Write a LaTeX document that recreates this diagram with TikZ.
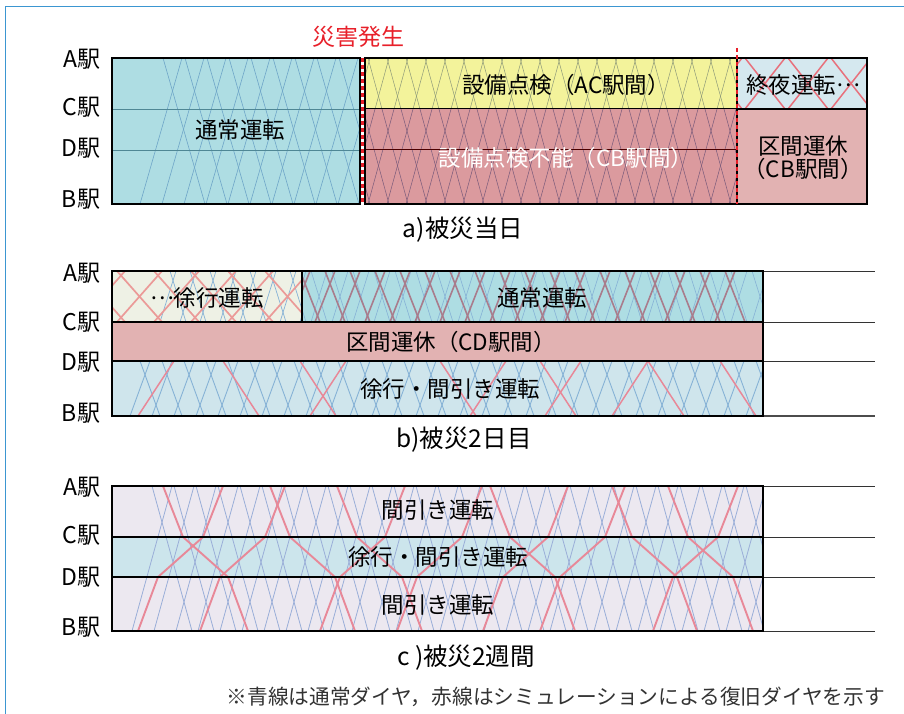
\documentclass[tikz,border=0pt]{standalone}
\usepackage{fontspec}
\setmainfont{Noto Sans CJK JP}
\definecolor{framec}{HTML}{3B96D1}
\definecolor{cyanA}{HTML}{AEDDE3}
\definecolor{yelA}{HTML}{F3F39B}
\definecolor{pinkA}{HTML}{DB9A9E}
\definecolor{ltblue}{HTML}{D5E8EF}
\definecolor{ltpink}{HTML}{E2B2B2}
\definecolor{paleB}{HTML}{EEF1E5}
\definecolor{blueB}{HTML}{CFE5EC}
\definecolor{lavC}{HTML}{ECE8F0}
\definecolor{midC}{HTML}{CCE5EC}
\definecolor{trBlue}{HTML}{6EA5C8}
\definecolor{trGray}{HTML}{8C9878}
\definecolor{trPurp}{HTML}{7A5A7A}
\definecolor{trRed}{HTML}{E8707C}
\definecolor{trRedB}{HTML}{EB9A98}
\definecolor{trMauve}{HTML}{A97C8C}
\definecolor{trBlueB}{HTML}{86B2D6}
\definecolor{trRedC}{HTML}{E88898}
\definecolor{trBlueC}{HTML}{9AAED8}
\definecolor{dlineA}{HTML}{4F8795}
\definecolor{notec}{HTML}{333333}
\definecolor{redtxt}{HTML}{E8202A}
\newcommand{\midells}{\raisebox{0.3em}{…}}
\begin{document}
\begin{tikzpicture}[x=1pt,y=-1pt,
  every node/.style={inner sep=0pt, outer sep=0pt},
  jp/.style={font=\fontsize{22.5}{26}\selectfont},
  stn/.style={font=\fontsize{23}{26}\selectfont, anchor=east},
  captxt/.style={font=\fontsize{24.5}{28}\selectfont},
  boxline/.style={draw=black, line width=1.1pt},
  thickbox/.style={draw=black, line width=1.8pt},
  extline/.style={draw=black!80, line width=0.8pt},
  thinblue/.style={trBlue, line width=0.6pt},
  quake/.style={draw=redtxt, line width=2.8pt, dash pattern=on 4pt off 3pt}
]
\useasboundingbox (0,0) rectangle (904,714);
\fill[white] (0,0) rectangle (904,714);
\draw[framec, line width=1pt] (5,714) -- (5,7) -- (904,7);

% ================= Panel a =================
\fill[cyanA] (112,58) rectangle (360,204);
\fill[yelA] (365,58) rectangle (737,109);
\fill[pinkA] (365,109) rectangle (737,204);
\fill[ltblue] (737,58) rectangle (867,109);
\fill[ltpink] (737,109) rectangle (867,204);

\begin{scope}
  \clip (112,58) rectangle (360,204);
  \foreach \x in {163,185,...,360} \draw[thinblue] (\x,58) -- ++(42,146);
  \foreach \x in {140,162,...,360} \draw[thinblue] (\x,204) -- ++(42,-146);
\end{scope}
\begin{scope}
  \clip (365,58) rectangle (737,109);
  \foreach \x in {330,349,...,740} \draw[trGray, line width=0.5pt] (\x,58) -- ++(40,146);
  \foreach \x in {330,349,...,740} \draw[trGray, line width=0.5pt] (\x,204) -- ++(40,-146);
\end{scope}
\begin{scope}
  \clip (365,109) rectangle (737,204);
  \foreach \x in {330,349,...,740} \draw[trPurp, line width=0.5pt] (\x,58) -- ++(40,146);
  \foreach \x in {330,349,...,740} \draw[trPurp, line width=0.5pt] (\x,204) -- ++(40,-146);
\end{scope}
\begin{scope}
  \clip (737,58) rectangle (867,109);
  \foreach \x in {702,745,...,870} \draw[trRed, line width=1.5pt] (\x,58) -- ++(40,51);
  \foreach \x in {702,745,...,870} \draw[trRed, line width=1.5pt] (\x,109) -- ++(40,-51);
\end{scope}

\draw[dlineA, line width=0.8pt] (112,109) -- (360,109);
\draw[dlineA, line width=0.8pt] (112,150) -- (360,150);
\draw[black, line width=1pt] (365,109) -- (737,109);
\draw[black!50!red!60!black, line width=1pt] (365,150) -- (737,150);
\draw[boxline] (112,58) rectangle (360,204);
\draw[boxline] (365,58) rectangle (737,204);
\draw[boxline] (737,58) rectangle (867,204);
\draw[boxline] (737,109) -- (867,109);
\draw[quake] (362.5,58) -- (362.5,204);
\draw[quake] (737,48) -- (737,204);

\node[jp, text=redtxt, font=\fontsize{23}{26}\selectfont] (quakeLbl) at (358,37) {災害発生};
\node[stn] (aA) at (100,59) {A駅};
\node[stn] (aC) at (100,107) {C駅};
\node[stn] (aD) at (100,148) {D駅};
\node[stn] (aB) at (100,199) {B駅};
\node[jp] (aNormal) at (240,130) {通常運転};
\node[jp] (aCheck) at (566,85) {設備点検（AC駅間）};
\node[jp, text=white] (aNoCheck) at (566,158) {設備点検不能（CB駅間）};
\node[jp] (aNight) at (803,85) {終夜運転\midells};
\node[jp, align=center, font=\fontsize{22.5}{23}\selectfont] (aSusp) at (803,158) {区間運休\\（CB駅間）};
\node[captxt] (capA) at (463,230) {a)被災当日};

% ================= Panel b =================
\fill[paleB] (112,271) rectangle (302,322);
\fill[cyanA] (302,271) rectangle (763,322);
\fill[ltpink] (112,322) rectangle (763,361);
\fill[blueB] (112,361) rectangle (763,416);

\begin{scope}
  \clip (112,271) rectangle (302,322);
  \foreach \x in {170,190,...,300} \draw[trBlueB, line width=0.7pt] (\x,271) -- ++(16,51);
  \foreach \x in {160,180,...,300} \draw[trBlueB, line width=0.7pt] (\x,322) -- ++(16,-51);
  \foreach \x in {80,117,...,310} \draw[trRedB, line width=1.7pt] (\x,271) -- ++(45,51);
  \foreach \x in {80,117,...,310} \draw[trRedB, line width=1.7pt] (\x,322) -- ++(45,-51);
\end{scope}
\begin{scope}
  \clip (302,271) rectangle (763,322);
  \foreach \x in {290,311,...,760} \draw[trBlueB, line width=0.6pt] (\x,271) -- ++(16,51);
  \foreach \x in {290,311,...,760} \draw[trBlueB, line width=0.6pt] (\x,322) -- ++(16,-51);
  \foreach \x in {300,325,...,740} \draw[trMauve, line width=1.6pt] (\x,271) -- ++(20,51);
  \foreach \x in {290,315,...,730} \draw[trMauve, line width=1.6pt] (\x,322) -- ++(20,-51);
\end{scope}
\begin{scope}
  \clip (112,361) rectangle (763,416);
  \foreach \x in {140,162,...,760} \draw[trBlueB, line width=0.9pt] (\x,361) -- ++(20,55);
  \foreach \x in {130,152,...,760} \draw[trBlueB, line width=0.9pt] (\x,416) -- ++(20,-55);
  \foreach \x in {223,300,440,540,648,720} \draw[trRedC, line width=1.5pt] (\x,361) -- ++(36,55);
  \foreach \x in {138,310,470,545,612} \draw[trRedC, line width=1.5pt] (\x,416) -- ++(36,-55);
\end{scope}

\draw[extline] (763,271) -- (875,271);
\draw[extline] (763,322) -- (875,322);
\draw[extline] (763,361) -- (875,361);
\draw[extline, line width=1.2pt, draw=black!70] (763,416) -- (875,416);
\draw[boxline] (112,271) rectangle (763,416);
\draw[boxline] (302,271) -- (302,322);
\draw[boxline] (112,322) -- (763,322);
\draw[boxline] (112,361) -- (763,361);

\node[stn] (bA) at (100,273) {A駅};
\node[stn] (bC) at (100,322) {C駅};
\node[stn] (bD) at (100,362) {D駅};
\node[stn] (bB) at (100,413) {B駅};
\node[jp] (bSlow) at (207,298) {\midells 徐行運転};
\node[jp] (bNormal) at (542,298) {通常運転};
\node[jp] (bSusp) at (451,342) {区間運休（CD駅間）};
\node[jp] (bThin) at (450,389) {徐行・間引き運転};
\node[captxt] (capB) at (464,440) {b)被災2日目};

% ================= Panel c =================
\fill[lavC] (112,486) rectangle (763,537);
\fill[midC] (112,537) rectangle (763,577);
\fill[lavC] (112,577) rectangle (763,631);

\begin{scope}
  \clip (112,486) rectangle (763,631);
  \foreach \x in {152,174,...,760} \draw[trBlueC, line width=0.8pt] (\x,486) -- ++(40,145);
  \foreach \x in {132,154,...,760} \draw[trBlueC, line width=0.8pt] (\x,631) -- ++(40,-145);
  \foreach \x in {163,270,337,490,612,668} \draw[trRedC, line width=1.9pt]
     (\x,486) -- ++(20,51) -- ++(45,40) -- ++(20,54);
  \foreach \x in {138,200,320,397,483,540,653} \draw[trRedC, line width=1.9pt]
     (\x,631) -- ++(20,-54) -- ++(45,-40) -- ++(20,-51);
\end{scope}

\draw[extline] (763,486) -- (875,486);
\draw[extline] (763,537) -- (875,537);
\draw[extline] (763,577) -- (875,577);
\draw[extline] (763,631) -- (875,631);
\draw[thickbox] (112,486) rectangle (763,631);
\draw[thickbox] (112,537) -- (763,537);
\draw[thickbox] (112,577) -- (763,577);

\node[stn] (cA) at (100,487) {A駅};
\node[stn] (cC) at (100,535) {C駅};
\node[stn] (cD) at (100,577) {D駅};
\node[stn] (cB) at (100,627) {B駅};
\node[jp] (cThinTop) at (438,510) {間引き運転};
\node[jp] (cSlow) at (438,557) {徐行・間引き運転};
\node[jp] (cThinBot) at (438,605) {間引き運転};
\node[captxt] (capC) at (466,658) {c )被災2週間};

\node[anchor=east, text=notec, font=\fontsize{20.7}{24}\selectfont] (note) at (885,697)
  {※青線は通常ダイヤ，赤線はシミュレーションによる復旧ダイヤを示す};
\end{tikzpicture}
\end{document}
